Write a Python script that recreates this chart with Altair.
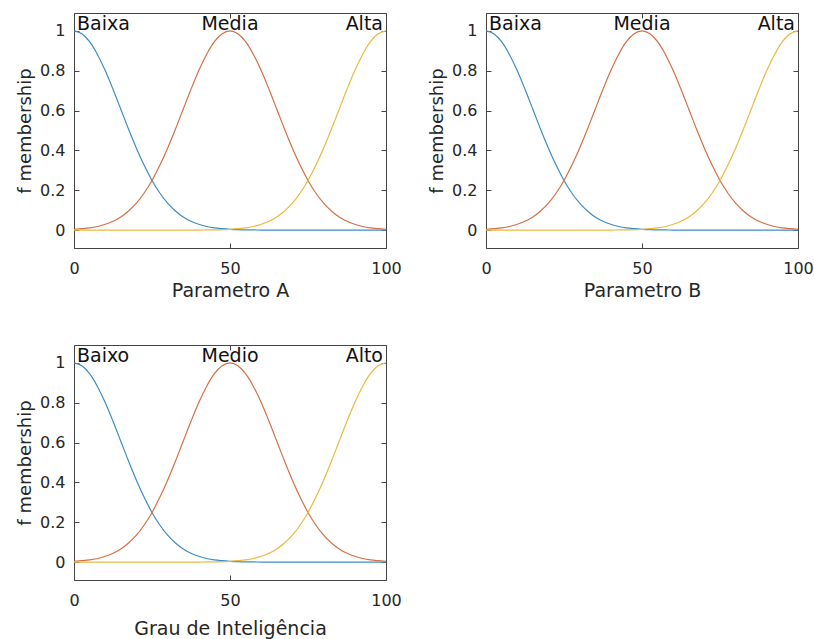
import altair as alt
import pandas as pd

# ---- data (x step 2.5) ----
x_vals = [i * 2.5 for i in range(41)]

low_vals = [1.0, 0.986, 0.946, 0.882, 0.801, 0.707, 0.607, 0.506, 0.411, 0.325,
            0.249, 0.186, 0.135, 0.096, 0.066, 0.044, 0.029, 0.018, 0.011, 0.007,
            0.004, 0.002, 0.001, 0.001, 0, 0, 0, 0, 0, 0,
            0, 0, 0, 0, 0, 0, 0, 0, 0, 0, 0]
mid_vals = [0.004, 0.007, 0.011, 0.018, 0.029, 0.044, 0.066, 0.096, 0.135, 0.186,
            0.249, 0.325, 0.411, 0.506, 0.607, 0.707, 0.801, 0.882, 0.946, 0.986,
            1.0, 0.986, 0.946, 0.882, 0.801, 0.707, 0.607, 0.506, 0.411, 0.325,
            0.249, 0.186, 0.135, 0.096, 0.066, 0.044, 0.029, 0.018, 0.011, 0.007, 0.004]
high_vals = [0, 0, 0, 0, 0, 0, 0, 0, 0, 0,
             0, 0, 0, 0, 0, 0, 0, 0.001, 0.001, 0.002,
             0.004, 0.007, 0.011, 0.018, 0.029, 0.044, 0.066, 0.096, 0.135, 0.186,
             0.249, 0.325, 0.411, 0.506, 0.607, 0.707, 0.801, 0.882, 0.946, 0.986, 1.0]

panel_titles = ["Parametro A", "Parametro B", "Grau de Inteligência"]
panel_names = [["Baixa", "Media", "Alta"],
               ["Baixa", "Media", "Alta"],
               ["Baixo", "Medio", "Alto"]]
label_pos = [0, 50, 100]
x_ticks = [0, 50, 100]
y_ticks = [0, 0.2, 0.4, 0.6, 0.8, 1]

series_keys = ["low", "mid", "high"]
series_colors = ["#3E8DC2", "#D56F45", "#EAB93F"]

W, H = 312, 235
FONT = "DejaVu Sans"
AX = "#444444"
TXT = "#262626"


def panel(xtitle, names, tpad):
    rows = []
    for key, vals in zip(series_keys, [low_vals, mid_vals, high_vals]):
        for xv, yv in zip(x_vals, vals):
            rows.append({"x": xv, "y": yv, "s": key})
    df = pd.DataFrame(rows)
    lab = pd.DataFrame({"x": label_pos, "y": [1.0] * 3, "t": names})

    xs = alt.Scale(domain=[0, 100], nice=False, zero=False)
    ys = alt.Scale(domain=[-0.09, 1.09], nice=False, zero=False)

    lines = alt.Chart(df).mark_line(strokeWidth=1.2, interpolate="monotone", clip=True).encode(
        x=alt.X("x:Q", scale=xs, axis=alt.Axis(values=x_ticks, title=xtitle, ticks=False, domain=False,
                                                grid=False, labelPadding=12, titlePadding=tpad,
                                                labelFont=FONT, labelFontSize=16, labelColor=TXT,
                                                titleFont=FONT, titleFontSize=19, titleFontWeight="normal",
                                                titleColor=TXT, labelFlush=False)),
        y=alt.Y("y:Q", scale=ys, axis=alt.Axis(values=y_ticks, format="~g", title="f membership",
                                                ticks=False, domain=False, grid=False, labelPadding=9,
                                                titlePadding=5, labelFont=FONT, labelFontSize=16,
                                                labelColor=TXT, titleFont=FONT, titleFontSize=18,
                                                titleFontWeight="normal", titleColor=TXT)),
        color=alt.Color("s:N", scale=alt.Scale(domain=series_keys, range=series_colors), legend=None),
    )

    ticks_a = alt.Chart(df).mark_point(opacity=0).encode(
        x=alt.X("x:Q", scale=xs, axis=alt.Axis(orient="top", offset=-H, values=x_ticks, labels=False,
                                                title=None, domain=False, grid=False, ticks=True,
                                                tickSize=5, tickColor=AX)),
        y=alt.Y("y:Q", scale=ys, axis=alt.Axis(orient="right", offset=-W, values=y_ticks, labels=False,
                                                title=None, domain=False, grid=False, ticks=True,
                                                tickSize=5, tickColor=AX)),
    )
    ticks_b = alt.Chart(df).mark_point(opacity=0).encode(
        x=alt.X("x:Q", scale=xs, axis=alt.Axis(orient="bottom", offset=-H, values=x_ticks, labels=False,
                                                title=None, domain=False, grid=False, ticks=True,
                                                tickSize=5, tickColor=AX)),
        y=alt.Y("y:Q", scale=ys, axis=alt.Axis(orient="left", offset=-W, values=y_ticks, labels=False,
                                                title=None, domain=False, grid=False, ticks=True,
                                                tickSize=5, tickColor=AX)),
    )

    texts = []
    for i, (al, dx) in enumerate([("left", 3), ("center", 0), ("right", -3)]):
        texts.append(
            alt.Chart(lab.iloc[[i]]).mark_text(align=al, baseline="alphabetic", dx=dx, dy=-1,
                                               font=FONT, fontSize=19, color="#111111").encode(
                x=alt.X("x:Q", scale=xs, axis=None),
                y=alt.Y("y:Q", scale=ys, axis=None),
                text="t:N",
            )
        )

    return alt.layer(lines, ticks_a, ticks_b, *texts).resolve_axis(
        x="independent", y="independent"
    ).properties(width=W, height=H)


p1 = panel(panel_titles[0], panel_names[0], 5)
p2 = panel(panel_titles[1], panel_names[1], 5)
p3 = panel(panel_titles[2], panel_names[2], 11)

chart = alt.vconcat(
    alt.hconcat(p1, p2, spacing=26),
    p3,
    spacing=43,
).properties(
    padding={"left": 16, "top": 12, "right": 0, "bottom": 0},
    background="white",
).configure_view(stroke=AX, strokeWidth=1)

chart.save("out.html", embed_options={"renderer": "svg", "actions": False})
